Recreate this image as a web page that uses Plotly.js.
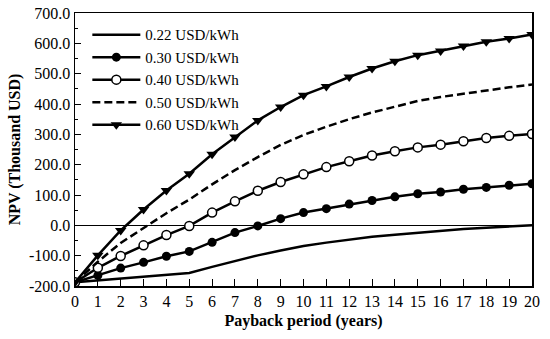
<!DOCTYPE html>
<html>
<head>
<meta charset="utf-8">
<script src="https://cdn.plot.ly/plotly-3.0.1.min.js"></script>
<style>html,body{margin:0;padding:0;background:#fff;}#chart{width:550px;height:339px;}</style>
</head>
<body>
<div id="chart"></div>
<script>
var years = [0,1,2,3,4,5,6,7,8,9,10,11,12,13,14,15,16,17,18,19,20];
var seriesNames = ["0.22 USD/kWh","0.30 USD/kWh","0.40 USD/kWh","0.50 USD/kWh","0.60 USD/kWh"];
var npv022 = [-188,-182,-176,-170,-164,-157,-137,-117,-99,-83,-68,-57,-47,-38,-31,-24,-18,-12,-8,-4,0];
var npv030 = [-188,-165,-141,-122,-102,-86,-56,-24,-2,22,42,55,70,82,94,104,110,119,125,132,137];
var npv040 = [-188,-140,-101,-66,-32,-2,42,79,114,143,168,192,211,230,244,257,266,277,288,295,301];
var npv050 = [-188,-120,-58,-8,40,85,135,182,225,265,298,325,350,372,392,410,423,434,446,455,464];
var npv060 = [-188,-99,-17,52,115,170,234,291,346,390,429,458,489,517,541,561,575,591,605,616,629];
var yTickVals = [-200,-100,0,100,200,300,400,500,600,700];
var yTickText = ["-200.0","-100.0","0.0","100.0","200.0","300.0","400.0","500.0","600.0","700.0"];
var xTickVals = years;

var font = "Liberation Serif";
var traces = [
  {x: years, y: npv022, name: seriesNames[0], mode: "lines", line: {color: "#000", width: 2.5}},
  {x: years, y: npv030, name: seriesNames[1], mode: "lines+markers", line: {color: "#000", width: 2.5},
   marker: {symbol: "circle", size: 9, color: "#000"}},
  {x: years, y: npv040, name: seriesNames[2], mode: "lines+markers", line: {color: "#000", width: 2.5},
   marker: {symbol: "circle", size: 9, color: "#fff", line: {color: "#000", width: 1.5}}},
  {x: years, y: npv050, name: seriesNames[3], mode: "lines", line: {color: "#000", width: 2.5, dash: "8px,4px"}},
  {x: years, y: npv060, name: seriesNames[4], mode: "lines+markers", line: {color: "#000", width: 2.5},
   marker: {symbol: "triangle-down", size: 10, color: "#000"}}
];

var layout = {
  width: 550, height: 339,
  margin: {l: 75, r: 18, t: 13, b: 53},
  paper_bgcolor: "#fff", plot_bgcolor: "#fff",
  font: {family: font, color: "#000", size: 16},
  showlegend: true,
  legend: {x: 0.027, y: 0.755, xanchor: "left", yanchor: "middle", bgcolor: "rgba(0,0,0,0)",
           font: {family: font, size: 15, color: "#000"}, itemwidth: 48, tracegroupgap: 0},
  xaxis: {
    range: [0, 20], tickvals: xTickVals, ticks: "inside", ticklen: 7, tickwidth: 1, tickcolor: "#000",
    showline: true, mirror: true, linecolor: "#000", linewidth: 1.5, showgrid: false, zeroline: false,
    tickfont: {family: font, size: 16, color: "#000"},
    title: {text: "<b>Payback period (years)</b>", font: {family: font, size: 16, color: "#000"}, standoff: 6}
  },
  yaxis: {
    range: [-200, 700], tickvals: yTickVals, ticktext: yTickText, ticks: "inside", ticklen: 6, tickwidth: 1, tickcolor: "#000",
    minor: {ticks: "inside", ticklen: 3, dtick: 50, tickcolor: "#000", showgrid: false},
    showline: true, mirror: true, linecolor: "#000", linewidth: 1.5, showgrid: false,
    zeroline: true, zerolinecolor: "#000", zerolinewidth: 1.5,
    tickfont: {family: font, size: 16, color: "#000"},
    title: {text: "<b>NPV (Thousand USD)</b>", font: {family: font, size: 16, color: "#000"}, standoff: 4}
  }
};

Plotly.newPlot("chart", traces, layout, {displayModeBar: false, staticPlot: true});
</script>
</body>
</html>
